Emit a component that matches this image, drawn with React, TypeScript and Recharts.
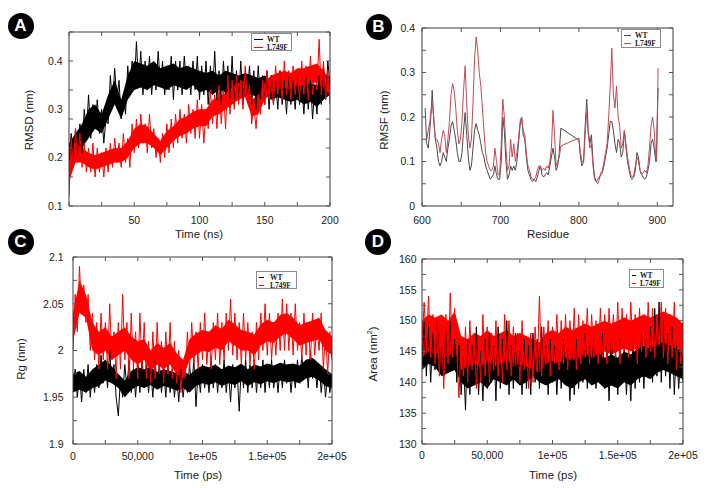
import React from 'react';
import { ComposedChart, Line, Area, XAxis, YAxis, Legend } from 'recharts';

const W = 712;
const H = 488;
const FONT = "'Liberation Sans', Arial, sans-serif";
const SERIF = "'Liberation Serif', 'Times New Roman', serif";
const FRAME = '#3a3a3a';
const TICK = '#555';
const TL = 4;

// ---------- Panel A: RMSD (nm) vs Time (ns) ----------
const rmsdWT = [
  0.20, 0.25, 0.19, 0.26, 0.20, 0.27, 0.21, 0.30, 0.25, 0.33,
  0.24, 0.31, 0.26, 0.32, 0.25, 0.30, 0.23, 0.28, 0.27, 0.37,
  0.31, 0.385, 0.32, 0.36, 0.28, 0.33, 0.29, 0.39, 0.33, 0.40,
  0.34, 0.44, 0.35, 0.42, 0.33, 0.40, 0.34, 0.41, 0.33, 0.39,
  0.34, 0.42, 0.35, 0.40, 0.33, 0.39, 0.34, 0.41, 0.32, 0.40,
  0.34, 0.40, 0.33, 0.41, 0.35, 0.39, 0.33, 0.40, 0.34, 0.41,
  0.32, 0.39, 0.33, 0.40, 0.31, 0.39, 0.33, 0.42, 0.32, 0.38,
  0.31, 0.40, 0.33, 0.39, 0.32, 0.41, 0.31, 0.38, 0.32, 0.40,
  0.31, 0.37, 0.33, 0.39, 0.31, 0.38, 0.30, 0.39, 0.32, 0.37,
  0.31, 0.38, 0.30, 0.37, 0.31, 0.36, 0.30, 0.38, 0.31, 0.36,
  0.29, 0.37, 0.31, 0.36, 0.30, 0.37, 0.31, 0.35, 0.29, 0.37,
  0.30, 0.36, 0.28, 0.35, 0.29, 0.37, 0.31, 0.39, 0.32, 0.40,
  0.35,
];
const rmsdMut = [
  0.12, 0.24, 0.18, 0.26, 0.19, 0.25, 0.18, 0.23, 0.17, 0.22,
  0.17, 0.23, 0.16, 0.22, 0.17, 0.21, 0.16, 0.22, 0.17, 0.23,
  0.18, 0.24, 0.19, 0.23, 0.18, 0.25, 0.19, 0.24, 0.18, 0.27,
  0.21, 0.28, 0.22, 0.29, 0.23, 0.27, 0.21, 0.29, 0.22, 0.26,
  0.20, 0.24, 0.19, 0.25, 0.20, 0.27, 0.21, 0.28, 0.22, 0.29,
  0.23, 0.30, 0.24, 0.29, 0.23, 0.31, 0.25, 0.30, 0.24, 0.32,
  0.24, 0.31, 0.23, 0.30, 0.26, 0.34, 0.27, 0.33, 0.26, 0.35,
  0.27, 0.34, 0.26, 0.37, 0.29, 0.36, 0.30, 0.37, 0.31, 0.36,
  0.30, 0.39, 0.32, 0.35, 0.27, 0.31, 0.26, 0.32, 0.29, 0.36,
  0.31, 0.38, 0.32, 0.37, 0.31, 0.39, 0.33, 0.38, 0.32, 0.40,
  0.33, 0.38, 0.32, 0.39, 0.33, 0.38, 0.32, 0.40, 0.33, 0.39,
  0.32, 0.41, 0.33, 0.39, 0.34, 0.445, 0.33, 0.40, 0.32, 0.38,
  0.31,
];
const timeNs = rmsdWT.map((_, i) => (i * 200) / (rmsdWT.length - 1));

// dense core of each trace, every 5 ns
const bandTimeNs = [
  0, 5, 10, 15, 20, 25, 30, 35, 40, 45, 50, 55, 60, 65, 70, 75, 80, 85, 90, 95, 100,
  105, 110, 115, 120, 125, 130, 135, 140, 145, 150, 155, 160, 165, 170, 175, 180, 185, 190, 195, 200,
];
const rmsdWTLo = [
  0.19, 0.20, 0.22, 0.24, 0.26, 0.25, 0.28, 0.31, 0.28, 0.32, 0.34, 0.345, 0.34, 0.35, 0.345, 0.34, 0.35, 0.345, 0.34, 0.35, 0.335,
  0.34, 0.33, 0.34, 0.335, 0.33, 0.34, 0.33, 0.33, 0.325, 0.33, 0.32, 0.325, 0.32, 0.315, 0.32, 0.31, 0.315, 0.305, 0.32, 0.33,
];
const rmsdWTHi = [
  0.23, 0.25, 0.27, 0.30, 0.31, 0.29, 0.33, 0.36, 0.32, 0.37, 0.40, 0.395, 0.39, 0.40, 0.385, 0.39, 0.395, 0.385, 0.39, 0.385, 0.38,
  0.375, 0.38, 0.37, 0.38, 0.375, 0.37, 0.375, 0.37, 0.365, 0.37, 0.36, 0.365, 0.36, 0.355, 0.36, 0.35, 0.355, 0.35, 0.36, 0.37,
];
const rmsdMutLo = [
  0.15, 0.19, 0.19, 0.18, 0.175, 0.18, 0.185, 0.19, 0.19, 0.20, 0.22, 0.23, 0.23, 0.22, 0.205, 0.22, 0.235, 0.245, 0.25, 0.26, 0.265,
  0.265, 0.285, 0.29, 0.30, 0.31, 0.32, 0.325, 0.285, 0.29, 0.32, 0.335, 0.34, 0.345, 0.34, 0.35, 0.35, 0.355, 0.355, 0.345, 0.33,
];
const rmsdMutHi = [
  0.19, 0.23, 0.22, 0.21, 0.205, 0.21, 0.215, 0.22, 0.22, 0.235, 0.26, 0.27, 0.265, 0.25, 0.235, 0.255, 0.265, 0.28, 0.285, 0.295, 0.30,
  0.30, 0.32, 0.325, 0.335, 0.345, 0.355, 0.36, 0.32, 0.33, 0.355, 0.37, 0.375, 0.38, 0.375, 0.385, 0.385, 0.39, 0.395, 0.38, 0.36,
];

// ---------- Panel B: RMSF (nm) vs Residue ----------
const residues = [
  604, 606, 608, 610, 612, 613, 615, 617, 619, 621,
  623, 625, 627, 629, 631, 633, 635, 637, 639, 641,
  643, 645, 647, 649, 651, 653, 655, 657, 659, 661,
  663, 665, 667, 669, 671, 673, 675, 677, 679, 681,
  683, 685, 687, 689, 691, 693, 695, 697, 699, 701,
  703, 705, 707, 709, 711, 713, 715, 717, 719, 721,
  723, 725, 727, 729, 731, 733, 735, 737, 739, 741,
  743, 745, 747, 749, 751, 753, 755, 757, 759, 761,
  763, 765, 767, 769, 771, 773, 775, 777, 800, 802,
  804, 806, 808, 810, 812, 814, 816, 818, 820, 822,
  824, 826, 828, 830, 832, 834, 836, 838, 840, 842,
  844, 846, 848, 850, 852, 854, 856, 858, 860, 862,
  864, 866, 868, 870, 872, 874, 876, 878, 880, 882,
  884, 886, 888, 890, 892, 894, 896, 898, 899, 901,
];
const rmsfWT = [
  0.22, 0.14, 0.13, 0.17, 0.22, 0.26, 0.19, 0.15, 0.13, 0.10,
  0.09, 0.10, 0.12, 0.11, 0.10, 0.13, 0.15, 0.18, 0.19, 0.17,
  0.15, 0.12, 0.10, 0.10, 0.12, 0.17, 0.21, 0.16, 0.11, 0.08,
  0.09, 0.13, 0.17, 0.185, 0.17, 0.16, 0.14, 0.12, 0.11, 0.09,
  0.08, 0.07, 0.06, 0.065, 0.07, 0.09, 0.07, 0.06, 0.06, 0.10,
  0.20, 0.17, 0.10, 0.06, 0.07, 0.09, 0.08, 0.09, 0.08, 0.10,
  0.14, 0.18, 0.20, 0.16, 0.15, 0.11, 0.08, 0.07, 0.06, 0.055,
  0.06, 0.055, 0.065, 0.08, 0.09, 0.07, 0.065, 0.07, 0.075, 0.07,
  0.09, 0.11, 0.13, 0.11, 0.08, 0.09, 0.12, 0.175, 0.148, 0.11,
  0.09, 0.10, 0.18, 0.24, 0.17, 0.14, 0.16, 0.10, 0.065, 0.055,
  0.06, 0.065, 0.07, 0.075, 0.09, 0.11, 0.13, 0.16, 0.19, 0.19,
  0.17, 0.14, 0.12, 0.15, 0.14, 0.11, 0.12, 0.17, 0.13, 0.10,
  0.08, 0.065, 0.06, 0.065, 0.08, 0.12, 0.11, 0.08, 0.07, 0.065,
  0.06, 0.065, 0.08, 0.10, 0.14, 0.15, 0.13, 0.10, 0.12, 0.265,
];
const rmsfMut = [
  0.15, 0.15, 0.17, 0.19, 0.22, 0.23, 0.20, 0.15, 0.15, 0.14,
  0.12, 0.15, 0.17, 0.16, 0.12, 0.15, 0.19, 0.25, 0.275, 0.26,
  0.22, 0.17, 0.14, 0.15, 0.19, 0.26, 0.315, 0.23, 0.16, 0.13,
  0.15, 0.23, 0.33, 0.38, 0.35, 0.30, 0.27, 0.22, 0.17, 0.12,
  0.10, 0.09, 0.08, 0.08, 0.09, 0.13, 0.10, 0.07, 0.07, 0.14,
  0.24, 0.20, 0.13, 0.08, 0.09, 0.15, 0.11, 0.14, 0.10, 0.12,
  0.15, 0.19, 0.20, 0.17, 0.16, 0.12, 0.09, 0.08, 0.065, 0.06,
  0.06, 0.065, 0.08, 0.09, 0.09, 0.08, 0.085, 0.08, 0.09, 0.085,
  0.10, 0.13, 0.215, 0.16, 0.09, 0.10, 0.11, 0.135, 0.153, 0.12,
  0.10, 0.10, 0.16, 0.21, 0.16, 0.13, 0.14, 0.09, 0.06, 0.055,
  0.05, 0.06, 0.075, 0.08, 0.10, 0.12, 0.14, 0.20, 0.27, 0.355,
  0.25, 0.22, 0.27, 0.20, 0.18, 0.13, 0.14, 0.17, 0.14, 0.11,
  0.09, 0.07, 0.065, 0.07, 0.09, 0.11, 0.10, 0.08, 0.07, 0.075,
  0.08, 0.075, 0.09, 0.13, 0.18, 0.20, 0.17, 0.11, 0.10, 0.31,
];

// ---------- Panel C: Rg (nm) vs Time (ps) ----------
const rgWT = [
  1.96, 1.98, 1.95, 1.975, 1.945, 1.98, 1.955, 1.985, 1.95, 1.975,
  1.955, 1.985, 1.96, 1.995, 1.965, 1.99, 1.96, 2.00, 1.965, 1.985,
  1.95, 1.93, 1.97, 1.95, 1.985, 1.96, 1.99, 1.955, 1.98, 1.95,
  1.985, 1.955, 1.99, 1.96, 1.985, 1.955, 1.98, 1.95, 1.99, 1.96,
  1.985, 1.955, 1.98, 1.95, 1.985, 1.955, 1.98, 1.95, 1.975, 1.945,
  1.98, 1.95, 1.97, 1.955, 1.985, 1.96, 1.99, 1.94, 1.98, 1.955,
  1.985, 1.96, 1.98, 1.955, 1.99, 1.96, 1.985, 1.955, 1.98, 1.96,
  1.99, 1.955, 1.98, 1.945, 1.985, 1.96, 1.98, 1.935, 1.985, 1.96,
  1.99, 1.955, 1.985, 1.96, 1.99, 1.955, 1.98, 1.96, 1.99, 1.955,
  1.985, 1.96, 1.99, 1.96, 1.98, 1.955, 1.985, 1.96, 1.99, 1.965,
  1.985, 1.955, 1.98, 1.96, 1.99, 1.965, 1.995, 1.97, 1.99, 1.96,
  2.00, 1.97, 1.99, 1.96, 1.985, 1.955, 1.98, 1.95, 1.975, 1.955,
  1.97,
];
const rgMut = [
  2.00, 2.06, 2.02, 2.09, 2.04, 2.07, 2.03, 2.06, 2.00, 2.04,
  1.99, 2.03, 1.98, 2.04, 1.99, 2.03, 1.98, 2.05, 1.99, 2.02,
  1.97, 2.03, 1.98, 2.06, 1.99, 2.03, 1.97, 2.04, 1.98, 2.02,
  1.97, 2.04, 1.98, 2.03, 1.97, 2.01, 1.965, 2.02, 1.97, 2.03,
  1.975, 2.01, 1.965, 2.02, 1.975, 2.03, 1.97, 2.01, 1.965, 2.00,
  1.955, 1.99, 1.97, 2.02, 1.98, 2.03, 1.985, 2.02, 1.98, 2.03,
  1.99, 2.04, 1.985, 2.02, 1.98, 2.03, 1.99, 2.04, 1.985, 2.03,
  1.99, 2.04, 2.00, 2.055, 1.995, 2.04, 1.99, 2.03, 1.985, 2.04,
  1.99, 2.03, 1.985, 2.02, 1.98, 2.03, 1.99, 2.04, 2.00, 2.05,
  1.995, 2.04, 1.99, 2.03, 1.995, 2.04, 2.00, 2.055, 2.00, 2.05,
  2.00, 2.04, 1.995, 2.05, 2.00, 2.03, 1.99, 2.04, 1.995, 2.03,
  1.99, 2.04, 1.995, 2.03, 2.00, 2.04, 1.98, 2.02, 1.975, 2.02,
  1.99,
];
const timePsC = rgWT.map((_, i) => (i * 200000) / (rgWT.length - 1));

const bandTimePs = [
  0, 5000, 10000, 15000, 20000, 25000, 30000, 35000, 40000, 45000, 50000,
  55000, 60000, 65000, 70000, 75000, 80000, 85000, 90000, 95000, 100000,
  105000, 110000, 115000, 120000, 125000, 130000, 135000, 140000, 145000, 150000,
  155000, 160000, 165000, 170000, 175000, 180000, 185000, 190000, 195000, 200000,
];
const rgWTLo = [
  1.955, 1.958, 1.955, 1.96, 1.962, 1.968, 1.965, 1.96, 1.95, 1.958, 1.962,
  1.96, 1.963, 1.958, 1.962, 1.96, 1.957, 1.96, 1.955, 1.962, 1.965,
  1.963, 1.966, 1.962, 1.965, 1.963, 1.967, 1.962, 1.966, 1.964, 1.967,
  1.965, 1.968, 1.966, 1.967, 1.965, 1.97, 1.972, 1.968, 1.962, 1.96,
];
const rgWTHi = [
  1.975, 1.978, 1.972, 1.98, 1.985, 1.99, 1.983, 1.975, 1.968, 1.978, 1.982,
  1.98, 1.983, 1.977, 1.98, 1.978, 1.976, 1.978, 1.974, 1.98, 1.984,
  1.982, 1.985, 1.98, 1.984, 1.982, 1.986, 1.98, 1.985, 1.983, 1.986,
  1.984, 1.987, 1.985, 1.986, 1.984, 1.99, 1.992, 1.986, 1.98, 1.975,
];
const rgMutLo = [
  2.01, 2.04, 2.035, 2.0, 1.995, 2.0, 1.99, 1.995, 2.0, 1.99, 1.985,
  1.99, 1.978, 1.985, 1.98, 1.985, 1.975, 1.97, 1.99, 1.995, 2.0,
  1.998, 2.003, 2.0, 2.01, 2.005, 2.0, 2.0, 1.995, 2.005, 2.01,
  2.008, 2.015, 2.018, 2.012, 2.005, 2.008, 2.01, 2.012, 2.0, 1.995,
];
const rgMutHi = [
  2.04, 2.075, 2.06, 2.03, 2.02, 2.025, 2.015, 2.02, 2.025, 2.015, 2.01,
  2.012, 2.0, 2.008, 2.003, 2.008, 1.997, 1.99, 2.012, 2.018, 2.022,
  2.02, 2.027, 2.023, 2.033, 2.028, 2.022, 2.02, 2.017, 2.028, 2.033,
  2.03, 2.038, 2.04, 2.035, 2.027, 2.03, 2.032, 2.035, 2.022, 2.015,
];

// ---------- Panel D: Area (nm^2) vs Time (ps) ----------
const areaWT = [
  144, 150, 141, 149, 140, 148, 142, 150, 143, 146,
  141, 149, 142, 150, 143, 147, 140, 146, 138, 144,
  135.5, 147, 138, 146, 140, 149, 138, 145, 137, 147,
  139, 148, 140, 146, 137, 149, 139, 147, 140, 150,
  138, 146, 139, 148, 140, 145, 138, 147, 139, 146,
  138, 148, 140, 147, 139, 149, 140, 146, 138, 147,
  140, 146, 138, 145, 139, 147, 140, 145, 137, 146,
  138, 147, 139, 145, 140, 148, 139, 146, 141, 147,
  139, 145, 140, 148, 139, 146, 137, 147, 140, 145,
  138, 147, 140, 146, 138, 145, 137, 147, 139, 146,
  140, 148, 139, 147, 141, 149, 140, 152, 141, 153,
  140, 150, 141, 148, 139, 149, 138, 146, 139, 144,
  140,
];
const areaMut = [
  146, 153, 145, 154, 144, 151, 143, 150, 141, 149,
  139, 151, 143, 154.5, 144, 152, 145, 137.5, 147, 141,
  149, 140, 150, 142, 148, 139, 147, 140, 151, 141,
  149, 140, 148, 142, 150, 141, 148, 140, 151, 142,
  150, 141, 149, 143, 148, 140, 150, 142, 147, 139,
  148, 140, 149, 142, 154, 141, 149, 143, 150, 141,
  149, 143, 151, 142, 150, 143, 151, 142, 150, 144,
  152, 142, 151, 143, 150, 144, 152, 143, 151, 144,
  150, 143, 152, 144, 151, 143, 152, 145, 151, 144,
  153, 143, 152, 145, 151, 144, 153, 145, 151, 143,
  152, 145, 151, 144, 153, 145, 152, 144, 151, 146,
  153, 144, 152, 143, 151, 144, 153, 142, 150, 143,
  145,
];
const timePsD = areaWT.map((_, i) => (i * 200000) / (areaWT.length - 1));

const areaWTLo = [
  142, 143, 142.5, 141, 141.5, 142, 140, 139, 139.5, 140, 139,
  140.5, 140, 139.5, 140.5, 139.5, 140, 141, 140, 139.5, 140,
  140.5, 139.5, 139, 140, 140.5, 139.5, 140, 139, 139.5, 139,
  140, 139.5, 140.5, 141, 140.5, 141.5, 142, 141.5, 141, 140.5,
];
const areaWTHi = [
  147, 148, 147.5, 146.5, 147, 146.5, 145, 144, 144.5, 145, 144,
  145.5, 145, 144.5, 145.5, 144.5, 145, 146, 145, 144.5, 145,
  145.5, 144.5, 144, 145, 145.5, 144.5, 145, 144, 144.5, 144,
  145, 144.5, 145.5, 146, 145.5, 147, 148, 147.5, 146, 145.5,
];
const areaMutLo = [
  144, 145, 144.5, 145, 144, 145.5, 142, 142.5, 143, 142.5, 143.5,
  142.5, 143, 143.5, 142.5, 143, 142.5, 142, 141.5, 143, 143.5,
  143, 144, 143.5, 144, 144.5, 144, 144.5, 145, 144.5, 145,
  145.5, 145, 145.5, 146, 145.5, 146, 146.5, 146, 145.5, 145,
];
const areaMutHi = [
  150, 151, 150.5, 151, 150, 151.5, 147.5, 147, 148, 147.5, 148.5,
  147.5, 148, 148.5, 147.5, 148, 147.5, 147, 146.5, 148, 148.5,
  148, 149, 148.5, 149, 149.5, 149, 149.5, 150, 149.5, 150,
  150.5, 150, 150.5, 151, 150.5, 151, 151.5, 151, 150.5, 149.5,
];

// ---------- axes ticks / labels ----------
type Tick = [number, string];
const xMarksA = [0, 25, 50, 75, 100, 125, 150, 175, 200];
const xLabelsA: Tick[] = [[50, '50'], [100, '100'], [150, '150'], [200, '200']];
const yMarksA = [0.1, 0.16, 0.22, 0.28, 0.34, 0.4, 0.46];
const yLabelsA: Tick[] = [[0.1, '0.1'], [0.2, '0.2'], [0.3, '0.3'], [0.4, '0.4']];

const xMarksB = [600, 650, 700, 750, 800, 850, 900];
const xLabelsB: Tick[] = [[600, '600'], [700, '700'], [800, '800'], [900, '900']];
const yMarksB = [0, 0.05, 0.1, 0.15, 0.2, 0.25, 0.3, 0.35, 0.4];
const yLabelsB: Tick[] = [[0, '0'], [0.1, '0.1'], [0.2, '0.2'], [0.3, '0.3'], [0.4, '0.4']];

const xMarksPs = [0, 25000, 50000, 75000, 100000, 125000, 150000, 175000, 200000];
const xLabelsPs: Tick[] = [[0, '0'], [50000, '50,000'], [100000, '1e+05'], [150000, '1.5e+05'], [200000, '2e+05']];
const yMarksC = [1.9, 1.925, 1.95, 1.975, 2, 2.025, 2.05, 2.075, 2.1];
const yLabelsC: Tick[] = [[1.9, '1.9'], [1.95, '1.95'], [2, '2'], [2.05, '2.05'], [2.1, '2.1']];
const yMarksD = [130, 132.5, 135, 137.5, 140, 142.5, 145, 147.5, 150, 152.5, 155, 157.5, 160];
const yLabelsD: Tick[] = [[130, '130'], [135, '135'], [140, '140'], [145, '145'], [150, '150'], [155, '155'], [160, '160']];

const seriesNames = ['WT', 'L749F'];

type Row = { x: number; wt: number; mut: number };
type BandRow = { x: number; wt: [number, number]; mut: [number, number] };

interface Cfg {
  data: Row[];
  bands?: BandRow[];
  xDomain: [number, number];
  yDomain: [number, number];
  box: { l: number; t: number; r: number; b: number };
  xMarks: number[];
  xLabels: Tick[];
  yMarks: number[];
  yLabels: Tick[];
  xLabelDy: number;
  yLabelDx: number;
  xTitle: React.ReactNode;
  yTitle: React.ReactNode;
  xTitlePos: [number, number];
  yTitlePos: [number, number];
  colors: [string, string];
  legend: { x: number; y: number; w: number; h: number; sampleX: number; sample: number; textX: number };
}

const close = (a: number, b: number) => Math.abs(a - b) <= 1e-9 * (1 + Math.abs(b));
const union = (marks: number[], labels: Tick[]) => {
  const out: number[] = [];
  [...marks, ...labels.map((l) => l[0])].forEach((v) => {
    if (!out.some((o) => close(o, v))) out.push(v);
  });
  return out.sort((a, b) => a - b);
};

const tickText = { fontFamily: FONT, fontSize: 10.5, fill: '#222' };
const titleText = { fontFamily: FONT, fontSize: 11.5, fill: '#222' };

function makeTick(c: Cfg, side: 'b' | 't' | 'l' | 'r') {
  return (p: any) => {
    const v = p.payload.value;
    const isX = side === 'b' || side === 't';
    const marks = isX ? c.xMarks : c.yMarks;
    const mark = marks.some((m) => close(m, v));
    const lab = side === 'b' ? c.xLabels.find((l) => close(l[0], v)) : side === 'l' ? c.yLabels.find((l) => close(l[0], v)) : undefined;
    const x = p.x;
    const y = p.y;
    let line = null;
    if (mark) {
      if (side === 'b') line = <line x1={x} x2={x} y1={y} y2={y - TL} stroke={TICK} />;
      if (side === 't') line = <line x1={x} x2={x} y1={y} y2={y + TL} stroke={TICK} />;
      if (side === 'l') line = <line x1={x} x2={x + TL} y1={y} y2={y} stroke={TICK} />;
      if (side === 'r') line = <line x1={x} x2={x - TL} y1={y} y2={y} stroke={TICK} />;
    }
    return (
      <g>
        {line}
        {lab && side === 'b' && (
          <text x={x} y={y + c.xLabelDy} textAnchor="middle" {...tickText}>{lab[1]}</text>
        )}
        {lab && side === 'l' && (
          <text x={x + c.yLabelDx} y={y + 3.8} textAnchor="end" {...tickText}>{lab[1]}</text>
        )}
      </g>
    );
  };
}

function LegendBox({ c }: { c: Cfg }) {
  const lg = c.legend;
  return (
    <div
      style={{
        width: lg.w,
        height: lg.h,
        border: '1px solid #8a8a8a',
        boxSizing: 'border-box',
        background: '#fff',
        paddingTop: 1,
        fontFamily: SERIF,
        fontWeight: 'bold',
        fontSize: 7.5,
        color: '#222',
      }}
    >
      {seriesNames.map((n, i) => (
        <div key={n} style={{ position: 'relative', height: 8 }}>
          <span style={{ position: 'absolute', left: lg.sampleX, top: 3.5, width: lg.sample, height: 1, background: c.colors[i] }} />
          <span style={{ position: 'absolute', left: lg.textX, top: -0.5, lineHeight: '9px', whiteSpace: 'nowrap' }}>{n}</span>
        </div>
      ))}
    </div>
  );
}

function Panel({ c }: { c: Cfg }) {
  const xt = union(c.xMarks, c.xLabels);
  const yt = union(c.yMarks, c.yLabels);
  // axes are 1px thick, so the plot box lands exactly on c.box
  const margin = { left: c.box.l - 1, top: c.box.t - 1, right: W - c.box.r - 1, bottom: H - c.box.b - 1 };
  const common = { tickSize: 0, tickMargin: 0, tickLine: false, interval: 0 as const, allowDataOverflow: true, axisLine: { stroke: FRAME } };
  return (
    <div style={{ position: 'absolute', left: 0, top: 0 }}>
      <ComposedChart width={W} height={H} data={c.data} margin={margin}>
        <XAxis
          xAxisId="b"
          dataKey="x"
          type="number"
          domain={c.xDomain}
          ticks={xt}
          height={1}
          tick={makeTick(c, 'b')}
          {...common}
          label={(() => (
            <text x={c.xTitlePos[0]} y={c.xTitlePos[1]} textAnchor="middle" dominantBaseline="central" {...titleText}>
              {c.xTitle}
            </text>
          )) as any}
        />
        <XAxis xAxisId="t" orientation="top" dataKey="x" type="number" domain={c.xDomain} ticks={xt} height={1} tick={makeTick(c, 't')} {...common} />
        <YAxis
          yAxisId="l"
          type="number"
          domain={c.yDomain}
          ticks={yt}
          width={1}
          tick={makeTick(c, 'l')}
          {...common}
          label={(() => (
            <text
              x={c.yTitlePos[0]}
              y={c.yTitlePos[1]}
              textAnchor="middle"
              dominantBaseline="central"
              transform={`rotate(-90 ${c.yTitlePos[0]} ${c.yTitlePos[1]})`}
              {...titleText}
            >
              {c.yTitle}
            </text>
          )) as any}
        />
        <YAxis yAxisId="r" orientation="right" type="number" domain={c.yDomain} ticks={yt} width={1} tick={makeTick(c, 'r')} {...common} />
        {c.bands && (
          <Area xAxisId="b" yAxisId="l" data={c.bands} dataKey="wt" type="linear" stroke="none" fill={c.colors[0]} fillOpacity={1} legendType="none" dot={false} activeDot={false} isAnimationActive={false} />
        )}
        <Line xAxisId="b" yAxisId="l" dataKey="wt" name={seriesNames[0]} stroke={c.colors[0]} strokeWidth={1} dot={false} activeDot={false} isAnimationActive={false} />
        {c.bands && (
          <Area xAxisId="b" yAxisId="l" data={c.bands} dataKey="mut" type="linear" stroke="none" fill={c.colors[1]} fillOpacity={1} legendType="none" dot={false} activeDot={false} isAnimationActive={false} />
        )}
        <Line xAxisId="b" yAxisId="l" dataKey="mut" name={seriesNames[1]} stroke={c.colors[1]} strokeWidth={1} dot={false} activeDot={false} isAnimationActive={false} />
        <Legend
          layout="vertical"
          align="center"
          verticalAlign="middle"
          wrapperStyle={{ position: 'absolute', left: c.legend.x, top: c.legend.y, width: c.legend.w, height: c.legend.h }}
          content={() => <LegendBox c={c} />}
        />
      </ComposedChart>
    </div>
  );
}

const panelA: Cfg = {
  data: timeNs.map((t, i) => ({ x: t, wt: rmsdWT[i], mut: rmsdMut[i] })),
  bands: bandTimeNs.map((t, i) => ({ x: t, wt: [rmsdWTLo[i], rmsdWTHi[i]], mut: [rmsdMutLo[i], rmsdMutHi[i]] })),
  xDomain: [0, 200],
  yDomain: [0.1, 0.46],
  box: { l: 69, t: 32, r: 330, b: 206 },
  xMarks: xMarksA,
  xLabels: xLabelsA,
  yMarks: yMarksA,
  yLabels: yLabelsA,
  xLabelDy: 17.5,
  yLabelDx: -6.3,
  xTitle: 'Time (ns)',
  yTitle: 'RMSD (nm)',
  xTitlePos: [199, 234],
  yTitlePos: [29, 120],
  colors: ['#000000', '#ff0000'],
  legend: { x: 251, y: 33, w: 41, h: 18, sampleX: 2, sample: 9, textX: 15 },
};

const panelB: Cfg = {
  data: residues.map((r, i) => ({ x: r, wt: rmsfWT[i], mut: rmsfMut[i] })),
  xDomain: [600, 920],
  yDomain: [0, 0.4],
  box: { l: 422, t: 28, r: 673, b: 206 },
  xMarks: xMarksB,
  xLabels: xLabelsB,
  yMarks: yMarksB,
  yLabels: yLabelsB,
  xLabelDy: 17.5,
  yLabelDx: -7,
  xTitle: 'Residue',
  yTitle: 'RMSF (nm)',
  xTitlePos: [548, 234],
  yTitlePos: [384, 120],
  colors: ['#4a4a4a', '#c24a55'],
  legend: { x: 621, y: 29, w: 40, h: 19, sampleX: 2, sample: 7, textX: 13 },
};

const panelC: Cfg = {
  data: timePsC.map((t, i) => ({ x: t, wt: rgWT[i], mut: rgMut[i] })),
  bands: bandTimePs.map((t, i) => ({ x: t, wt: [rgWTLo[i], rgWTHi[i]], mut: [rgMutLo[i], rgMutHi[i]] })),
  xDomain: [0, 200000],
  yDomain: [1.9, 2.1],
  box: { l: 73, t: 257, r: 332, b: 444 },
  xMarks: xMarksPs,
  xLabels: xLabelsPs,
  yMarks: yMarksC,
  yLabels: yLabelsC,
  xLabelDy: 15.5,
  yLabelDx: -9.5,
  xTitle: 'Time (ps)',
  yTitle: 'Rg (nm)',
  xTitlePos: [198, 475],
  yTitlePos: [21, 359],
  colors: ['#000000', '#ff0000'],
  legend: { x: 256, y: 271, w: 41, h: 18, sampleX: 2, sample: 5, textX: 13 },
};

const panelD: Cfg = {
  data: timePsD.map((t, i) => ({ x: t, wt: areaWT[i], mut: areaMut[i] })),
  bands: bandTimePs.map((t, i) => ({ x: t, wt: [areaWTLo[i], areaWTHi[i]], mut: [areaMutLo[i], areaMutHi[i]] })),
  xDomain: [0, 200000],
  yDomain: [130, 160],
  box: { l: 422, t: 259, r: 683, b: 444 },
  xMarks: xMarksPs,
  xLabels: xLabelsPs,
  yMarks: yMarksD,
  yLabels: yLabelsD,
  xLabelDy: 15,
  yLabelDx: -5.5,
  xTitle: 'Time (ps)',
  yTitle: (
    <>
      Area (nm<tspan dy={-4} fontSize={7}>2</tspan>
      <tspan dy={4}>)</tspan>
    </>
  ),
  xTitlePos: [553, 475],
  yTitlePos: [373, 354],
  colors: ['#000000', '#ff0000'],
  legend: { x: 629, y: 269, w: 35, h: 19, sampleX: 2, sample: 4, textX: 10 },
};

const badges: [string, number, number][] = [
  ['A', 20.5, 26],
  ['B', 378.5, 27],
  ['C', 20.5, 242],
  ['D', 378, 242],
];

export default function App() {
  return (
    <div style={{ position: 'absolute', left: 0, top: 0, width: W, height: H, background: '#fff', overflow: 'hidden' }}>
      <Panel c={panelA} />
      <Panel c={panelB} />
      <Panel c={panelC} />
      <Panel c={panelD} />
      {badges.map(([l, cx, cy]) => (
        <div
          key={l}
          style={{
            position: 'absolute',
            left: cx - 13,
            top: cy - 13,
            width: 26,
            height: 26,
            borderRadius: 13,
            background: '#000',
            color: '#fff',
            fontFamily: FONT,
            fontWeight: 'bold',
            fontSize: 17,
            lineHeight: '26px',
            textAlign: 'center',
          }}
        >
          {l}
        </div>
      ))}
    </div>
  );
}
